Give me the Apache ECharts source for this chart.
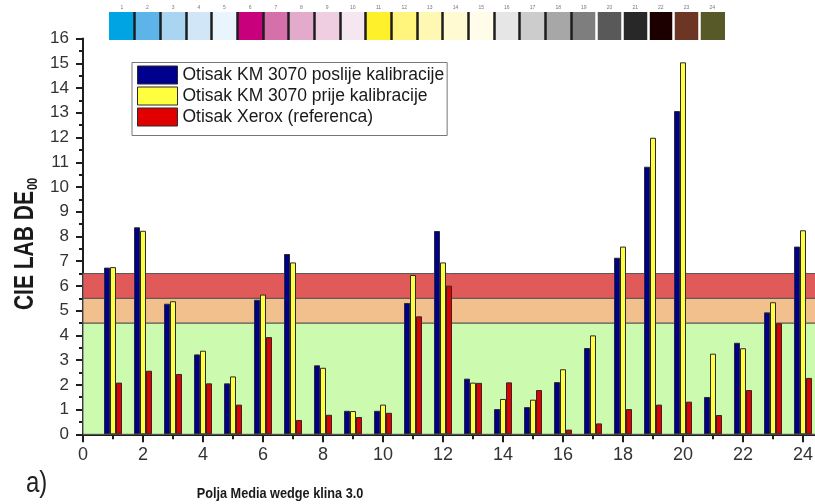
<!DOCTYPE html>
<html>
<head>
<meta charset="utf-8">
<script src="https://cdn.jsdelivr.net/npm/echarts@6/dist/echarts.min.js"></script>
<style>html,body{margin:0;padding:0;background:#fff}#c{width:815px;height:504px}</style>
</head>
<body>
<div id="c"></div>
<script>
// ---- data ----
const positions = [1,2,3,4,5,6,7,8,9,10,11,12,13,14,15,16,17,18,19,20,21,22,23,24];
const poslije = [6.74,8.37,5.28,3.23,2.06,5.44,7.29,2.79,0.95,0.95,5.31,8.22,2.25,1.02,1.10,2.11,3.49,7.14,10.82,13.07,1.51,3.70,4.93,7.59];
const prije   = [6.76,8.23,5.38,3.38,2.34,5.65,6.95,2.69,0.94,1.20,6.44,6.95,2.09,1.43,1.40,2.63,4.00,7.59,11.99,15.04,3.26,3.48,5.34,8.25];
const xerox   = [2.09,2.57,2.44,2.06,1.20,3.93,0.58,0.79,0.70,0.87,4.77,6.01,2.08,2.10,1.79,0.19,0.44,1.02,1.20,1.32,0.78,1.79,4.49,2.28];
const seriesNames = ['Otisak KM 3070 poslije kalibracije','Otisak KM 3070 prije kalibracije','Otisak Xerox (referenca)'];
const xTickLabels = ['0','2','4','6','8','10','12','14','16','18','20','22','24'];
const bandLimits = [0, 4.5, 5.5, 6.5];
const swatchLabels = ['1','2','3','4','5','6','7','8','9','10','11','12','13','14','15','16','17','18','19','20','21','22','23','24'];

// ---- styles ----
const SANS = '"Liberation Sans", Arial, sans-serif';
const barColors = ['#00008e', '#ffff40', '#e00000'];
const bandColors = ['#ccfbaf', '#f1c08c', '#e05a5a'];
const swatchColors = ['#00a4e2','#5db4e9','#a9d5f3','#d1e7f8','#e9f4fc','#c8007c','#d570aa','#e3aacc','#efcee1','#f6e6f0',
  '#fff02c','#fff47c','#fff8b2','#fffad2','#fffdea','#e6e6e6','#cccccc','#a7a7a7','#7e7e7e','#595959',
  '#282828','#1c0000','#6d3624','#575a28'];
const sepColors = ['rgba(0,0,0,0)'];
for (let i = 1; i <= 18; i++) sepColors.push('#1e1e1e');
for (let i = 19; i <= 23; i++) sepColors.push('#ffffff');
sepColors.push('rgba(0,0,0,0)');

const chart = echarts.init(document.getElementById('c'), null, {renderer: 'canvas'});

const bandAreas = [];
for (let i = 0; i < bandLimits.length - 1; i++) {
  bandAreas.push([
    {yAxis: bandLimits[i], itemStyle: {color: bandColors[i], borderColor: '#555', borderWidth: 1}},
    {yAxis: bandLimits[i + 1]}
  ]);
}

function barSeries(idx, vals) {
  return {
    name: seriesNames[idx],
    type: 'bar',
    xAxisIndex: 0, yAxisIndex: 0,
    barWidth: 6,
    barGap: '0%',
    z: 3,
    itemStyle: {color: barColors[idx], borderColor: '#2a2a2a', borderWidth: 1},
    emphasis: {disabled: true},
    data: positions.map((x, i) => [x, vals[i]])
  };
}

const s0 = barSeries(0, poslije);
s0.markArea = {silent: true, z: 1, data: bandAreas, label: {show: false}};

const option = {
  animation: false,
  backgroundColor: '#ffffff',
  grid: [
    {left: 83, right: -48, top: 38.6, bottom: 69.7, outerBoundsMode: 'none', containLabel: false},
    {left: 109, right: 90, top: 12, height: 28, outerBoundsMode: 'none', containLabel: false}
  ],
  xAxis: [
    {
      type: 'value', gridIndex: 0, min: 0, max: 26, interval: 2,
      axisLine: {show: true, onZero: false, lineStyle: {color: '#1e1e1e', width: 2}},
      axisTick: {show: true, length: 8, lineStyle: {color: '#1e1e1e', width: 2}},
      minorTick: {show: true, splitNumber: 2, length: 5, lineStyle: {color: '#1e1e1e', width: 2}},
      splitLine: {show: false},
      axisLabel: {
        margin: 12, fontSize: 18, color: '#333', fontFamily: SANS,
        formatter: v => (xTickLabels.indexOf(String(v)) >= 0 ? String(v) : '')
      }
    },
    {
      type: 'category', gridIndex: 1, position: 'top', data: swatchLabels, boundaryGap: true, z: 5,
      axisLine: {show: false}, axisTick: {show: false},
      axisLabel: {show: true, fontSize: 5, color: '#777', margin: 2, fontFamily: SANS, interval: 0},
      splitLine: {show: true, interval: 0, lineStyle: {color: sepColors, width: 2.5}}
    }
  ],
  yAxis: [
    {
      type: 'value', gridIndex: 0, min: 0, max: 16, interval: 1,
      axisLine: {show: true, lineStyle: {color: '#1e1e1e', width: 2}},
      axisTick: {show: true, length: 7, lineStyle: {color: '#1e1e1e', width: 2}},
      minorTick: {show: true, splitNumber: 2, length: 4, lineStyle: {color: '#1e1e1e', width: 2}},
      splitLine: {show: false},
      axisLabel: {margin: 14, fontSize: 17, color: '#333', fontFamily: SANS}
    },
    {type: 'value', gridIndex: 1, min: 0, max: 1, show: false}
  ],
  legend: {
    orient: 'vertical', left: 132, top: 62.5,
    data: seriesNames,
    icon: 'rect', itemWidth: 40, itemHeight: 18, itemGap: 2,
    padding: [3, 3, 9, 5],
    borderColor: '#777', borderWidth: 1, backgroundColor: '#fff',
    itemStyle: {borderColor: '#2a2a2a', borderWidth: 1},
    textStyle: {fontSize: 17.5, color: '#1a1a1a', fontFamily: SANS},
    selectedMode: false
  },
  series: [
    s0,
    barSeries(1, prije),
    barSeries(2, xerox),
    {
      type: 'bar', xAxisIndex: 1, yAxisIndex: 1, barCategoryGap: '0%', z: 1,
      silent: true,
      data: swatchLabels.map((l, i) => ({value: 1, itemStyle: {color: swatchColors[i]}}))
    }
  ],
  graphic: [
    {
      type: 'text', x: 25, y: 244, rotation: Math.PI / 2, scaleY: 1.3,
      style: {
        text: '{a|CIE LAB DE}{b|00}',
        align: 'center', verticalAlign: 'middle',
        rich: {
          a: {fontSize: 21, fontWeight: 'bold', fontFamily: SANS, fill: '#1a1a1a'},
          b: {fontSize: 11, fontWeight: 'bold', fontFamily: SANS, fill: '#1a1a1a', verticalAlign: 'bottom', padding: [12, 0, 0, 1]}
        }
      }
    },
    {
      type: 'text', x: 280, y: 494, scaleX: 0.82,
      style: {text: 'Polja Media wedge klina 3.0', align: 'center', verticalAlign: 'middle',
        fontSize: 15.5, fontWeight: 'bold', fontFamily: SANS, fill: '#1a1a1a'}
    },
    {
      type: 'text', x: 26, y: 484, scaleX: 0.8,
      style: {text: 'a)', align: 'left', verticalAlign: 'middle',
        fontSize: 30, fontFamily: SANS, fill: '#222'}
    }
  ]
};
chart.setOption(option);
</script>
</body>
</html>
